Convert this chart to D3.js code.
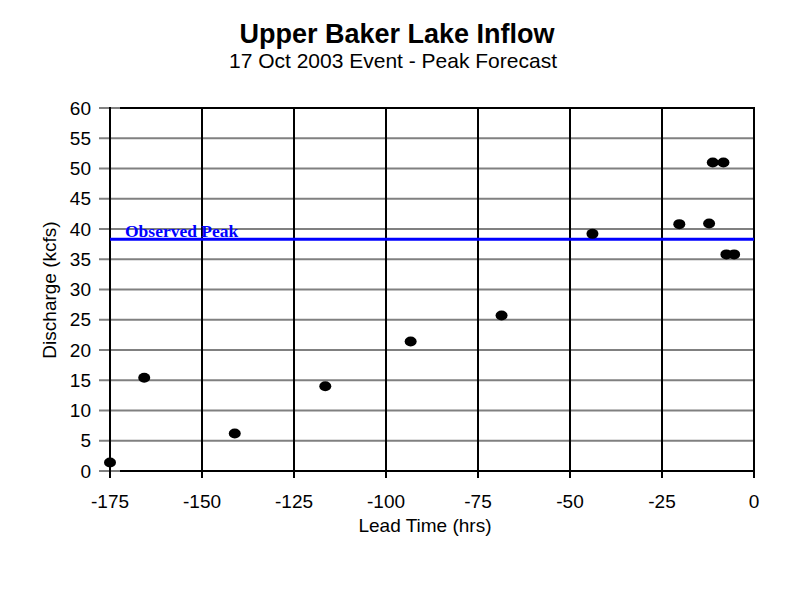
<!DOCTYPE html>
<html><head><meta charset="utf-8">
<script src="https://cdn.jsdelivr.net/npm/d3@7"></script>
<style>
body{margin:0;background:#fff;}
svg{display:block;font-family:"Liberation Sans",Arial,sans-serif;}
</style></head>
<body><svg id="c" width="800" height="600"></svg>
<script>
const leadTime = [-175, -165.7, -141.1, -116.5, -93.3, -68.6, -43.9, -20.3, -12.2, -11.2, -8.3, -7.5, -5.4];
const discharge = [1.4, 15.4, 6.2, 14.0, 21.4, 25.7, 39.2, 40.8, 40.9, 51.0, 51.0, 35.8, 35.8];
const observedPeak = 38.3;
const xTicks = [-175, -150, -125, -100, -75, -50, -25, 0];
const yTicks = [0, 5, 10, 15, 20, 25, 30, 35, 40, 45, 50, 55, 60];
const titleText = "Upper Baker Lake Inflow";
const subtitleText = "17 Oct 2003 Event - Peak Forecast";

const svg = d3.select("#c");
const x = d3.scaleLinear().domain([-175, 0]).range([110, 754]);
const y = d3.scaleLinear().domain([0, 60]).range([471, 108]);

// horizontal gridlines (grey) with left ticks
svg.append("g").selectAll("line").data(yTicks).join("line")
  .attr("x1", 99).attr("x2", x(0))
  .attr("y1", d => y(d)).attr("y2", d => y(d))
  .attr("stroke", "#808080").attr("stroke-width", 2);

// black top and bottom borders
svg.append("line").attr("x1", 120).attr("x2", x(0)+1).attr("y1", y(60)).attr("y2", y(60))
  .attr("stroke", "#000").attr("stroke-width", 2);
svg.append("line").attr("x1", 120).attr("x2", x(0)+1).attr("y1", y(0)).attr("y2", y(0))
  .attr("stroke", "#000").attr("stroke-width", 2);

// vertical gridlines (black) extending as ticks below
svg.append("g").selectAll("line").data(xTicks).join("line")
  .attr("x1", d => x(d)).attr("x2", d => x(d))
  .attr("y1", y(60)-1).attr("y2", y(0)+7)
  .attr("stroke", "#000").attr("stroke-width", 2);

// y tick labels
svg.append("g").selectAll("text").data(yTicks).join("text")
  .attr("x", 91).attr("y", d => y(d)).attr("dy", "0.35em")
  .attr("text-anchor", "end").attr("font-size", 19).text(d => d);

// x tick labels
svg.append("g").selectAll("text").data(xTicks).join("text")
  .attr("x", d => x(d)).attr("y", 508)
  .attr("text-anchor", "middle").attr("font-size", 19).text(d => d);

// observed peak line
svg.append("line").attr("x1", x(-175)).attr("x2", x(0))
  .attr("y1", y(observedPeak)).attr("y2", y(observedPeak))
  .attr("stroke", "#0000ff").attr("stroke-width", 3);
svg.append("text").attr("x", 125).attr("y", 237)
  .attr("font-family", "'Liberation Serif','Times New Roman',serif")
  .attr("font-weight", "bold").attr("font-size", 17.5).attr("fill", "#0000ff")
  .text("Observed Peak");

// points
svg.append("g").selectAll("ellipse").data(leadTime.map((t, i) => [t, discharge[i]])).join("ellipse")
  .attr("cx", d => x(d[0])).attr("cy", d => y(d[1]))
  .attr("rx", 6).attr("ry", 5).attr("fill", "#000");

// titles
svg.append("text").attr("x", 397).attr("y", 43).attr("text-anchor", "middle")
  .attr("font-weight", "bold").attr("font-size", 27).text(titleText);
svg.append("text").attr("x", 393).attr("y", 68).attr("text-anchor", "middle")
  .attr("font-size", 21).text(subtitleText);

// axis titles
svg.append("text").attr("x", 425).attr("y", 532).attr("text-anchor", "middle")
  .attr("font-size", 19).text("Lead Time (hrs)");
svg.append("text").attr("transform", "translate(56,290) rotate(-90)")
  .attr("text-anchor", "middle").attr("font-size", 19).text("Discharge (kcfs)");
</script></body></html>
